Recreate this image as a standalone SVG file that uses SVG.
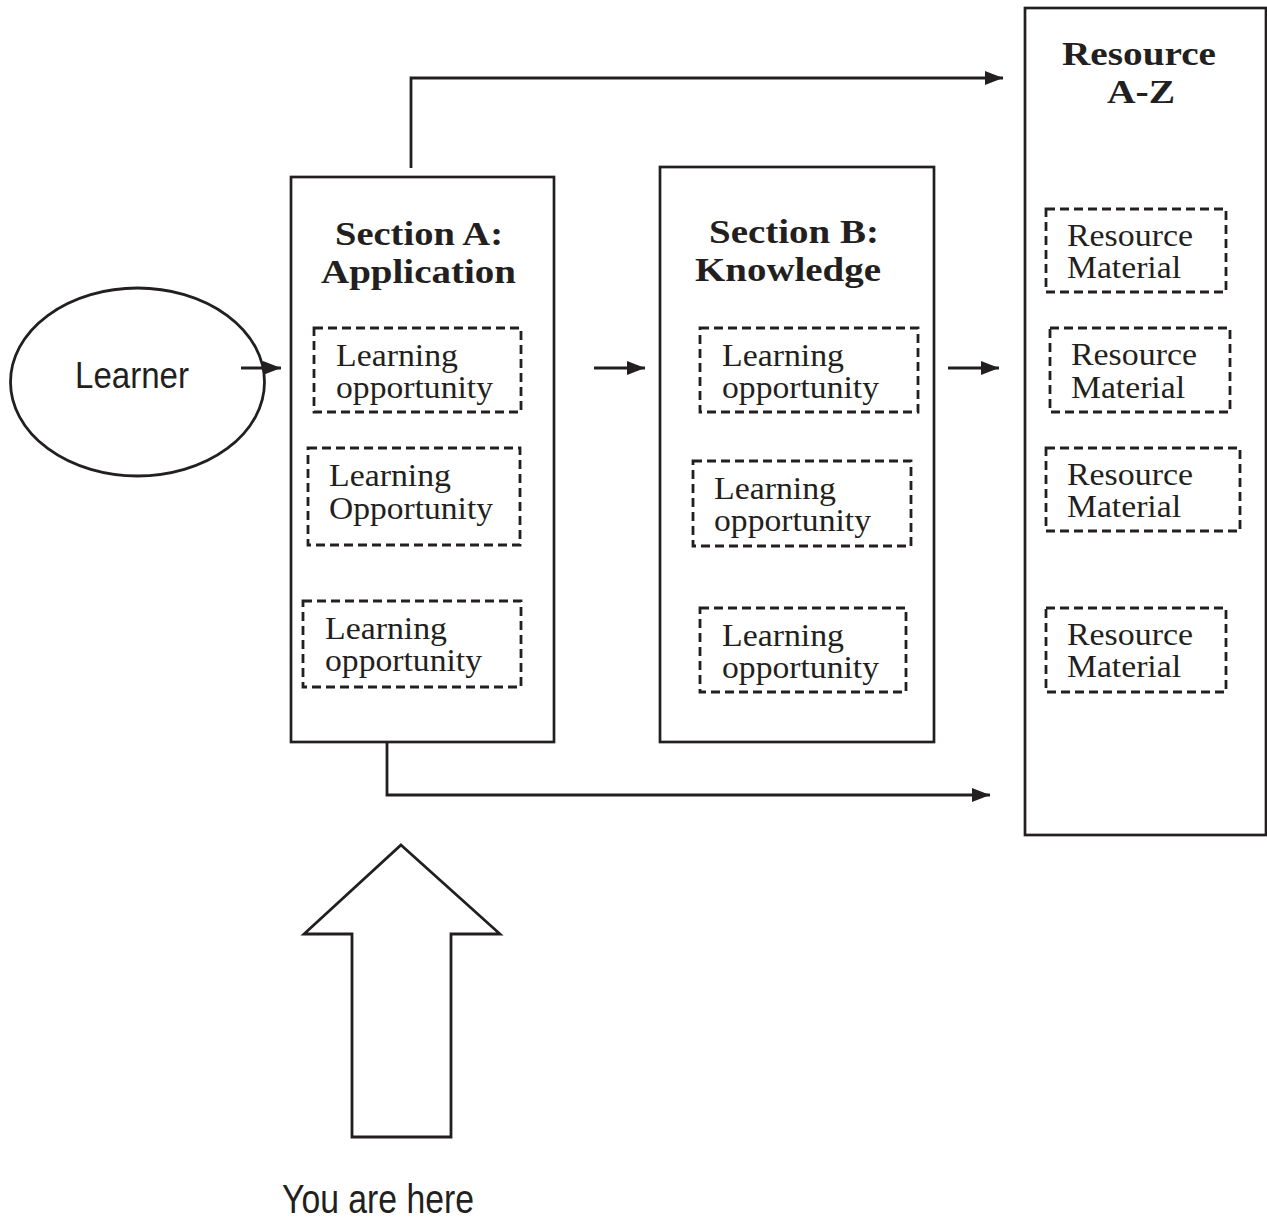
<svg xmlns="http://www.w3.org/2000/svg" width="1267" height="1225" viewBox="0 0 1267 1225">
  <style>
    .frame { fill: #ffffff; stroke: #231f20; stroke-width: 2.7; }
    .dash { fill: none; stroke: #231f20; stroke-width: 2.8; stroke-dasharray: 9 5; }
    .line { fill: none; stroke: #231f20; stroke-width: 2.8; }
    .title { font-family: "Liberation Serif", "Times New Roman", serif; font-weight: bold; font-size: 34px; fill: #231f20; }
    .item { font-family: "Liberation Serif", "Times New Roman", serif; font-size: 31px; fill: #231f20; }
    .sans { font-family: "Liberation Sans", Arial, sans-serif; fill: #231f20; }
  </style>
  <defs>
    <marker id="head" markerUnits="userSpaceOnUse" markerWidth="18" markerHeight="14" refX="18" refY="7" orient="auto">
      <path d="M0,0 L18,7 L0,14 z" fill="#231f20"/>
    </marker>
  </defs>

  <rect width="1267" height="1225" fill="#ffffff"/>

  <!-- Learner -->
  <g id="learner">
    <ellipse cx="137.5" cy="382" rx="127" ry="94" class="line"/>
    <text class="sans" x="75" y="388" font-size="37" textLength="114" lengthAdjust="spacingAndGlyphs">Learner</text>
  </g>

  <!-- Section A -->
  <g id="section-a">
    <rect class="frame" x="291" y="177" width="263" height="565"/>
    <text class="title" x="335" y="245" textLength="168" lengthAdjust="spacingAndGlyphs">Section A:</text>
    <text class="title" x="321" y="283" textLength="195" lengthAdjust="spacingAndGlyphs">Application</text>
    <g id="a-opp-1">
      <rect class="dash" x="314" y="328" width="207" height="84"/>
      <text class="item" x="336" y="366" textLength="122" lengthAdjust="spacingAndGlyphs">Learning</text>
      <text class="item" x="336" y="398" textLength="157" lengthAdjust="spacingAndGlyphs">opportunity</text>
    </g>
    <g id="a-opp-2">
      <rect class="dash" x="308" y="448" width="212" height="97"/>
      <text class="item" x="329" y="486" textLength="122" lengthAdjust="spacingAndGlyphs">Learning</text>
      <text class="item" x="329" y="519" textLength="164" lengthAdjust="spacingAndGlyphs">Opportunity</text>
    </g>
    <g id="a-opp-3">
      <rect class="dash" x="303" y="601" width="218" height="86"/>
      <text class="item" x="325" y="639" textLength="122" lengthAdjust="spacingAndGlyphs">Learning</text>
      <text class="item" x="325" y="671" textLength="157" lengthAdjust="spacingAndGlyphs">opportunity</text>
    </g>
  </g>

  <!-- Section B -->
  <g id="section-b">
    <rect class="frame" x="660" y="167" width="274" height="575"/>
    <text class="title" x="709" y="243" textLength="170" lengthAdjust="spacingAndGlyphs">Section B:</text>
    <text class="title" x="695" y="281" textLength="186" lengthAdjust="spacingAndGlyphs">Knowledge</text>
    <g id="b-opp-1">
      <rect class="dash" x="700" y="328" width="218" height="84"/>
      <text class="item" x="722" y="366" textLength="122" lengthAdjust="spacingAndGlyphs">Learning</text>
      <text class="item" x="722" y="398" textLength="157" lengthAdjust="spacingAndGlyphs">opportunity</text>
    </g>
    <g id="b-opp-2">
      <rect class="dash" x="693" y="461" width="218" height="85"/>
      <text class="item" x="714" y="499" textLength="122" lengthAdjust="spacingAndGlyphs">Learning</text>
      <text class="item" x="714" y="531" textLength="157" lengthAdjust="spacingAndGlyphs">opportunity</text>
    </g>
    <g id="b-opp-3">
      <rect class="dash" x="700" y="608" width="206" height="84"/>
      <text class="item" x="722" y="646" textLength="122" lengthAdjust="spacingAndGlyphs">Learning</text>
      <text class="item" x="722" y="678" textLength="157" lengthAdjust="spacingAndGlyphs">opportunity</text>
    </g>
  </g>

  <!-- Resource A-Z -->
  <g id="resource-az">
    <rect class="frame" x="1025" y="8" width="241" height="827"/>
    <text class="title" x="1062" y="65" textLength="154" lengthAdjust="spacingAndGlyphs">Resource</text>
    <text class="title" x="1107" y="103" textLength="68" lengthAdjust="spacingAndGlyphs">A-Z</text>
    <g id="res-1">
      <rect class="dash" x="1046" y="209" width="180" height="83"/>
      <text class="item" x="1067" y="246" textLength="126" lengthAdjust="spacingAndGlyphs">Resource</text>
      <text class="item" x="1067" y="278" textLength="114" lengthAdjust="spacingAndGlyphs">Material</text>
    </g>
    <g id="res-2">
      <rect class="dash" x="1050" y="328" width="180" height="84"/>
      <text class="item" x="1071" y="365" textLength="126" lengthAdjust="spacingAndGlyphs">Resource</text>
      <text class="item" x="1071" y="398" textLength="114" lengthAdjust="spacingAndGlyphs">Material</text>
    </g>
    <g id="res-3">
      <rect class="dash" x="1046" y="448" width="194" height="83"/>
      <text class="item" x="1067" y="485" textLength="126" lengthAdjust="spacingAndGlyphs">Resource</text>
      <text class="item" x="1067" y="517" textLength="114" lengthAdjust="spacingAndGlyphs">Material</text>
    </g>
    <g id="res-4">
      <rect class="dash" x="1046" y="608" width="180" height="84"/>
      <text class="item" x="1067" y="645" textLength="126" lengthAdjust="spacingAndGlyphs">Resource</text>
      <text class="item" x="1067" y="677" textLength="114" lengthAdjust="spacingAndGlyphs">Material</text>
    </g>
  </g>

  <!-- You are here -->
  <g id="you-are-here">
    <polygon class="line" stroke-width="3" points="401,845 500,934 451,934 451,1137 352,1137 352,934 304,934"/>
    <text class="sans" x="282" y="1213" font-size="41" textLength="192" lengthAdjust="spacingAndGlyphs">You are here</text>
  </g>

  <!-- Connectors -->
  <g id="connectors">
    <path class="line" d="M241,368 H281" marker-end="url(#head)"/>
    <path class="line" d="M594,368 H645" marker-end="url(#head)"/>
    <path class="line" d="M948,368 H999" marker-end="url(#head)"/>
    <path class="line" d="M411,168 V78 H1003" marker-end="url(#head)"/>
    <path class="line" d="M387,742 V795 H990" marker-end="url(#head)"/>
  </g>
</svg>
